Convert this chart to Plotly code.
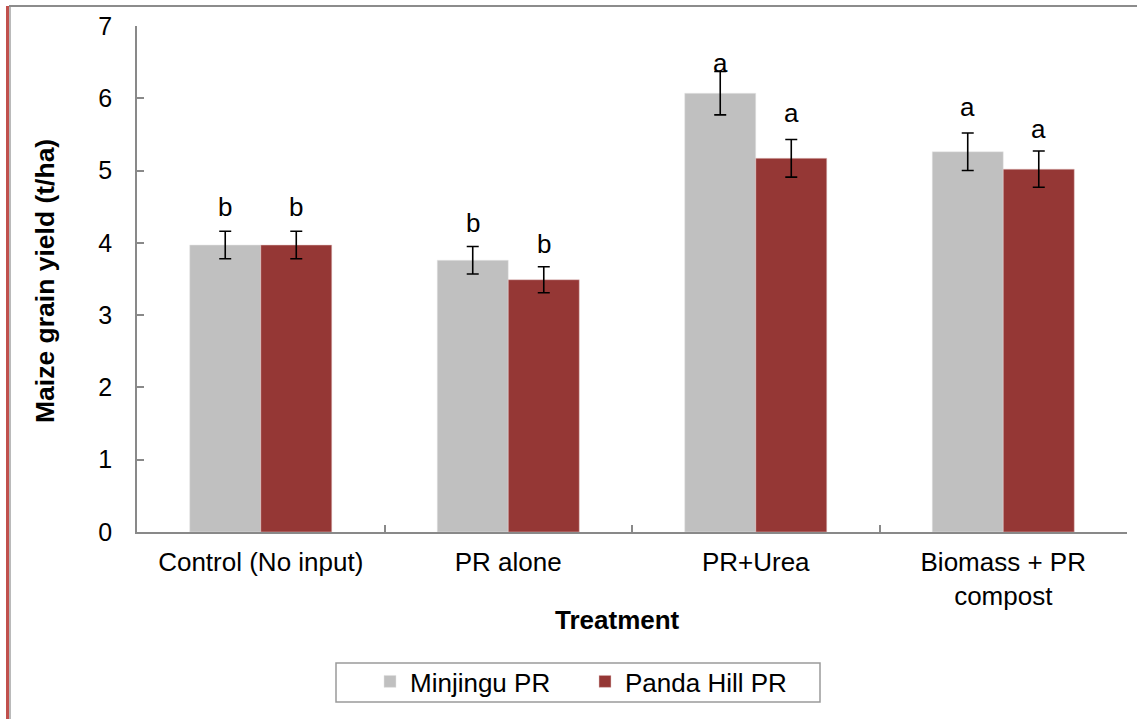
import plotly.graph_objects as go

categories = ["Control (No input)", "PR alone", "PR+Urea", "Biomass + PR<br>compost"]
minjingu = [3.97, 3.76, 6.07, 5.26]
minjingu_err = [0.19, 0.19, 0.30, 0.26]
panda = [3.97, 3.49, 5.17, 5.02]
panda_err = [0.19, 0.18, 0.26, 0.25]
letters_m = ["b", "b", "a", "a"]
letters_p = ["b", "b", "a", "a"]
letter_y_m = [4.49, 4.27, 6.49, 5.88]
letter_y_p = [4.49, 3.99, 5.79, 5.57]
y_ticks = [0, 1, 2, 3, 4, 5, 6, 7]

W, H = 1137, 719
ML, MR, MT, MB = 137, 10, 26, 187
PW = W - ML - MR
PH = H - MT - MB
BARGAP = 0.426
FONT = "Liberation Sans, Arial, sans-serif"

fig = go.Figure()
fig.add_trace(go.Bar(
    name="Minjingu PR", x=categories, y=minjingu,
    marker=dict(color="#C0C0C0", line=dict(color="#E6E6E6", width=0.5)),
    error_y=dict(type="data", array=minjingu_err, color="black", thickness=1.6, width=6),
))
fig.add_trace(go.Bar(
    name="Panda Hill PR", x=categories, y=panda,
    marker=dict(color="#953735", line=dict(color="#E6CACA", width=0.5)),
    error_y=dict(type="data", array=panda_err, color="black", thickness=1.6, width=6),
))

cat_w = PW / len(categories)
bar_w = cat_w * (1 - BARGAP) / 2
for i, c in enumerate(categories):
    fig.add_annotation(x=c, y=letter_y_m[i], text=letters_m[i], showarrow=False,
                       xshift=-bar_w / 2, yanchor="middle",
                       font=dict(family=FONT, size=26, color="black"))
    fig.add_annotation(x=c, y=letter_y_p[i], text=letters_p[i], showarrow=False,
                       xshift=bar_w / 2, yanchor="middle",
                       font=dict(family=FONT, size=26, color="black"))

def px_x(px):
    return (px - ML) / PW

def px_y(py):
    return (H - MB - py) / PH

# axis titles
fig.add_annotation(xref="paper", yref="paper", x=px_x(617), y=px_y(620),
                   text="<b>Treatment</b>", showarrow=False, yanchor="middle",
                   font=dict(family=FONT, size=26, color="black"))
fig.add_annotation(xref="paper", yref="paper", x=px_x(45), y=px_y(281),
                   text="<b>Maize grain yield (t/ha)</b>", showarrow=False, textangle=-90,
                   xanchor="center", yanchor="middle",
                   font=dict(family=FONT, size=26.5, color="black"))

# outer frame lines
fig.add_shape(type="line", xref="paper", yref="paper", x0=px_x(7.5), x1=px_x(7.5),
              y0=px_y(6), y1=px_y(719), line=dict(color="#C0504D", width=3))
fig.add_shape(type="line", xref="paper", yref="paper", x0=px_x(10), x1=px_x(10),
              y0=px_y(6), y1=px_y(719), line=dict(color="#8C8C8C", width=1.2))
fig.add_shape(type="line", xref="paper", yref="paper", x0=px_x(9), x1=px_x(1137),
              y0=px_y(6), y1=px_y(6), line=dict(color="#8C8C8C", width=2))
# legend box
fig.add_shape(type="rect", xref="paper", yref="paper", x0=px_x(336), x1=px_x(820),
              y0=px_y(702), y1=px_y(663), line=dict(color="#9A9A9A", width=1.5),
              fillcolor="white", layer="below")

fig.update_layout(
    width=W, height=H,
    margin=dict(l=ML, r=MR, t=MT, b=MB, autoexpand=False),
    paper_bgcolor="white", plot_bgcolor="rgba(0,0,0,0)",
    barmode="group", bargap=BARGAP, bargroupgap=0,
    font=dict(family=FONT, size=26, color="black"),
    showlegend=True,
    legend=dict(orientation="h", x=px_x(370), y=px_y(658), xanchor="left", yanchor="top",
                borderwidth=0, bgcolor="rgba(0,0,0,0)",
                font=dict(family=FONT, size=26, color="black"),
                itemwidth=30, entrywidthmode="pixels", entrywidth=170),
    xaxis=dict(showline=True, linecolor="#898989", linewidth=1.5, automargin=False,
               ticks="inside", tickson="boundaries", ticklen=7, tickcolor="#898989", tickwidth=1.5,
               tickfont=dict(family=FONT, size=26, color="black"),
               ticklabelstandoff=6, showgrid=False, zeroline=False),
    yaxis=dict(range=[0, 7], tickvals=y_ticks, showline=True, linecolor="#898989", linewidth=1.5,
               automargin=False,
               ticks="inside", ticklen=7, tickcolor="#898989", tickwidth=1.5,
               tickfont=dict(family=FONT, size=25, color="black"),
               ticklabelstandoff=18, showgrid=False, zeroline=False),
)

fig.write_html(
    "out.html",
    config={"displayModeBar": False},
    post_script="document.body.style.margin='0';document.body.style.overflow='hidden';",
)
